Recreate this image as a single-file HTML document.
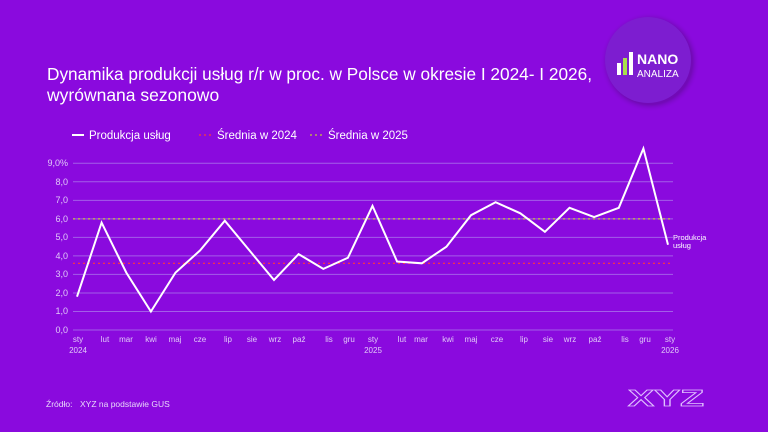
<!DOCTYPE html>
<html><head><meta charset="utf-8"><style>
html,body{margin:0;padding:0;background:#8a0ade;}
svg{display:block;font-family:"Liberation Sans",sans-serif;}
</style></head><body>
<svg width="768" height="432" viewBox="0 0 768 432" xmlns="http://www.w3.org/2000/svg">
<defs><radialGradient id="sh" cx="50%" cy="50%" r="50%"><stop offset="85%" stop-color="#5a0a90" stop-opacity="0.5"/><stop offset="100%" stop-color="#8a0ade" stop-opacity="0"/></radialGradient></defs>
<rect width="768" height="432" fill="#8a0ade"/>
<circle cx="650" cy="62" r="50" fill="url(#sh)"/>
<circle cx="648" cy="60" r="43" fill="#7d1dd0"/>
<rect x="617" y="63" width="4" height="12" fill="#fff"/>
<rect x="623" y="58" width="4" height="17" fill="#a8e04a"/>
<rect x="629" y="52" width="4" height="23" fill="#fff"/>
<text x="637" y="64" font-size="14" font-weight="bold" fill="#fff">NANO</text>
<text x="637" y="77" font-size="10" fill="#fff">ANALIZA</text>
<text x="47" y="80" font-size="17.5" fill="#fff" textLength="545" lengthAdjust="spacingAndGlyphs">Dynamika produkcji usług r/r w proc. w Polsce w okresie I 2024- I 2026,</text>
<text x="47" y="101" font-size="17.5" fill="#fff">wyrównana sezonowo</text>
<line x1="72" y1="135" x2="84" y2="135" stroke="#fff" stroke-width="2"/>
<text x="89" y="139" font-size="11.5" fill="#fff">Produkcja usług</text>
<line x1="199" y1="135" x2="212" y2="135" stroke="#ff3a3a" stroke-width="1.2" stroke-dasharray="2,3"/>
<text x="217" y="139" font-size="11.5" fill="#fff">Średnia w 2024</text>
<line x1="310" y1="135" x2="323" y2="135" stroke="#c8c83a" stroke-width="1.2" stroke-dasharray="2,3"/>
<text x="328" y="139" font-size="11.5" fill="#fff">Średnia w 2025</text>
<g stroke="#a35ee8" stroke-width="1">
<line x1="73" y1="163.3" x2="673" y2="163.3"/><line x1="73" y1="181.8" x2="673" y2="181.8"/><line x1="73" y1="200.4" x2="673" y2="200.4"/><line x1="73" y1="218.9" x2="673" y2="218.9"/><line x1="73" y1="237.4" x2="673" y2="237.4"/><line x1="73" y1="255.9" x2="673" y2="255.9"/><line x1="73" y1="274.4" x2="673" y2="274.4"/><line x1="73" y1="293" x2="673" y2="293"/><line x1="73" y1="311.5" x2="673" y2="311.5"/><line x1="73" y1="330" x2="673" y2="330"/>
</g>
<g font-size="9" fill="#e0c8f8" text-anchor="end">
<text x="68" y="166">9,0%</text><text x="68" y="185">8,0</text><text x="68" y="203">7,0</text><text x="68" y="222">6,0</text><text x="68" y="240">5,0</text><text x="68" y="259">4,0</text><text x="68" y="277">3,0</text><text x="68" y="296">2,0</text><text x="68" y="314">1,0</text><text x="68" y="333">0,0</text>
</g>
<line x1="73" y1="218.9" x2="670" y2="218.9" stroke="#c8c83a" stroke-width="1.2" stroke-dasharray="2,3"/>
<line x1="73" y1="263.3" x2="670" y2="263.3" stroke="#ff3a3a" stroke-width="1.2" stroke-dasharray="2,3"/>
<polyline fill="none" stroke="#fff" stroke-width="2" stroke-linejoin="miter" points="77,296.7 101.6,222.6 126.3,272.6 150.9,311.5 175.5,272.6 200.1,250.4 224.8,220.7 249.4,250.4 274,280 298.6,254.1 323.3,268.9 347.9,257.8 372.5,205.9 397.1,261.5 421.8,263.3 446.4,246.7 471,215.2 495.6,202.2 520.3,213.3 544.9,231.8 569.5,207.8 594.1,217 618.8,207.8 643.4,148.5 668,244.8"/>
<text x="673" y="240" font-size="7.5" fill="#fff">Produkcja</text>
<text x="673" y="248" font-size="7.5" fill="#fff">usług</text>
<g font-size="8" fill="#e0c8f8" text-anchor="middle">
<text x="78" y="342">sty</text><text x="78" y="353">2024</text>
<text x="105" y="342">lut</text><text x="126" y="342">mar</text><text x="151" y="342">kwi</text><text x="175" y="342">maj</text><text x="200" y="342">cze</text><text x="228" y="342">lip</text><text x="252" y="342">sie</text><text x="275" y="342">wrz</text><text x="299" y="342">paź</text><text x="329" y="342">lis</text><text x="349" y="342">gru</text>
<text x="373" y="342">sty</text><text x="373" y="353">2025</text>
<text x="402" y="342">lut</text><text x="421" y="342">mar</text><text x="448" y="342">kwi</text><text x="471" y="342">maj</text><text x="497" y="342">cze</text><text x="524" y="342">lip</text><text x="548" y="342">sie</text><text x="570" y="342">wrz</text><text x="595" y="342">paź</text><text x="625" y="342">lis</text><text x="645" y="342">gru</text>
<text x="670" y="342">sty</text><text x="670" y="353">2026</text>
</g>
<text x="46" y="407" font-size="8.5" fill="#e8d8fa">Źródło:</text>
<text x="80" y="407" font-size="8.5" fill="#e8d8fa">XYZ na podstawie GUS</text>
<text x="666" y="406" font-size="23" font-weight="bold" fill="none" stroke="#e0c0ff" stroke-width="0.8" text-anchor="middle" textLength="76" lengthAdjust="spacingAndGlyphs">XYZ</text>
</svg>
</body></html>
